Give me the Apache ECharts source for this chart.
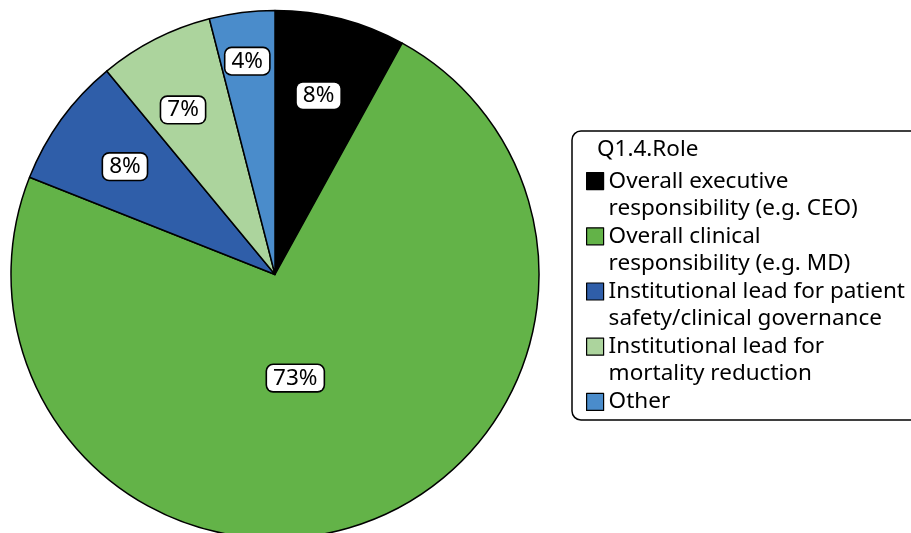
<!DOCTYPE html>
<html>
<head>
<meta charset="utf-8">
<style>
  html, body { margin: 0; padding: 0; background: #fff; }
  #chart { width: 911px; height: 533px; }
</style>
<script src="https://cdn.jsdelivr.net/npm/echarts@6/dist/echarts.min.js"></script>
</head>
<body>
<div id="chart"></div>
<script>
// Roles of survey respondents (Q1.4), share of respondents in percent
const roles = [
  'Overall executive responsibility (e.g. CEO)',
  'Overall clinical responsibility (e.g. MD)',
  'Institutional lead for patient safety/clinical governance',
  'Institutional lead for mortality reduction',
  'Other'
];
const legendText = [
  'Overall executive\nresponsibility (e.g. CEO)',
  'Overall clinical\nresponsibility (e.g. MD)',
  'Institutional lead for patient\nsafety/clinical governance',
  'Institutional lead for\nmortality reduction',
  'Other'
];
const shares = [8, 73, 8, 7, 4];
const legendTitle = 'Q1.4.Role';

// Styling
const palette = ['#000000', '#63b348', '#2f5ea9', '#acd49d', '#4a8ccb'];
const FONT = '"Noto Sans", "DejaVu Sans", sans-serif';
const PIE_CX = 275, PIE_CY = 274.5, PIE_R = 264;
// Where each value label sits: fraction of the radius, and a small angular nudge (deg)
const labelRadius = [0.697, 0.40, 0.70, 0.714, 0.815];
const labelTurn = [-0.7, 8.7, -0.3, -2.2, -0.2];

// Legend markers: a square aligned with the first text line
const squareTwoLines = 'path://M0,0M0,5h17v17h-17zM17,54';
const squareOneLine = 'path://M0,0M0,5h17v17h-17zM17,27';

const total = shares.reduce((a, b) => a + b, 0);
const cumBefore = shares.map((_, i) => shares.slice(0, i).reduce((a, b) => a + b, 0));

const chart = echarts.init(document.getElementById('chart'), null, { renderer: 'canvas' });

chart.setOption({
  animation: false,
  color: palette,
  title: {
    text: legendTitle,
    left: 597,
    top: 136,
    padding: 0,
    textStyle: {
      fontFamily: FONT,
      fontSize: 22.5,
      fontWeight: 'normal',
      lineHeight: 27,
      color: '#000'
    }
  },
  legend: {
    orient: 'vertical',
    left: 572,
    top: 131,
    padding: [36, 24, 4, 14],
    itemGap: 0,
    itemWidth: 17,
    itemHeight: 54,
    symbolKeepAspect: true,
    borderColor: '#000',
    borderWidth: 1.5,
    borderRadius: 9,
    backgroundColor: '#fff',
    selectedMode: false,
    itemStyle: { borderColor: '#000', borderWidth: 1.2 },
    data: roles.map((name, i) => ({
      name: name,
      icon: legendText[i].indexOf('\n') >= 0 ? squareTwoLines : squareOneLine
    })),
    formatter: name => legendText[roles.indexOf(name)],
    textStyle: {
      fontFamily: FONT,
      fontSize: 22.5,
      lineHeight: 27,
      color: '#000'
    }
  },
  series: [{
    type: 'pie',
    center: [PIE_CX, PIE_CY],
    radius: PIE_R,
    startAngle: 90,
    clockwise: true,
    avoidLabelOverlap: false,
    silent: true,
    itemStyle: { borderColor: '#000', borderWidth: 1.5 },
    emphasis: { disabled: true },
    labelLine: { show: false },
    label: {
      show: true,
      position: 'inside',
      formatter: '{c}%',
      fontFamily: FONT,
      fontSize: 22.5,
      lineHeight: 22,
      color: '#000',
      backgroundColor: '#fff',
      borderColor: '#000',
      borderWidth: 1.6,
      borderRadius: 6,
      padding: [2, 6]
    },
    labelLayout: params => {
      const i = params.dataIndex;
      const deg = 360 * (cumBefore[i] + shares[i] / 2) / total + labelTurn[i];
      const a = deg * Math.PI / 180;
      const r = labelRadius[i] * PIE_R;
      return {
        x: PIE_CX + r * Math.sin(a),
        y: PIE_CY - r * Math.cos(a),
        align: 'center',
        verticalAlign: 'middle'
      };
    },
    data: roles.map((name, i) => ({ name: name, value: shares[i] }))
  }]
});
</script>
</body>
</html>
